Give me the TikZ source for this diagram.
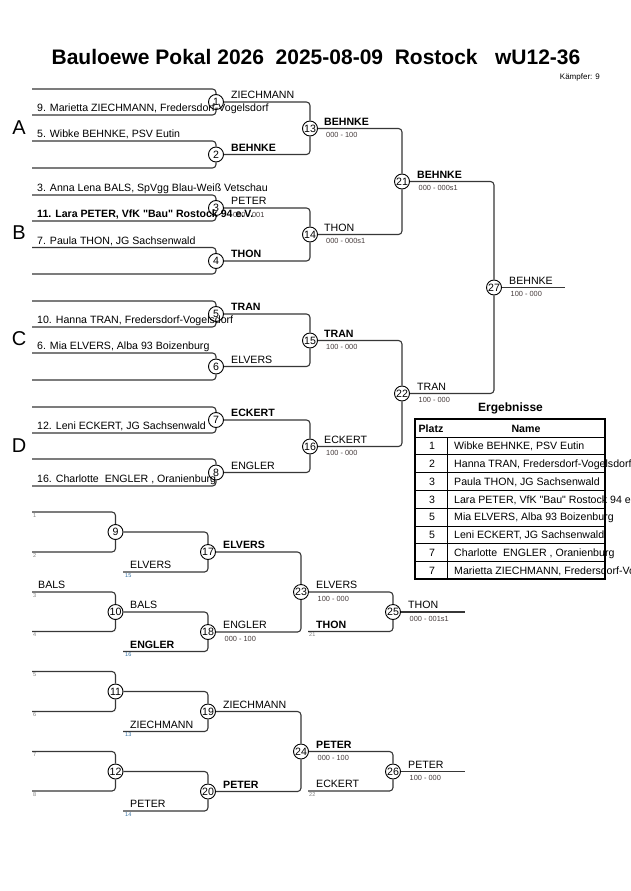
\documentclass[tikz,border=0pt]{standalone}
\usepackage{fontspec}
\newfontfamily\af{Liberation Sans}
\definecolor{lc}{RGB}{55,55,55}
\definecolor{scc}{RGB}{70,60,60}
\definecolor{tb}{RGB}{50,110,160}
\begin{document}
\begin{tikzpicture}[x=1pt,y=-1pt,
  br/.style={draw=lc, line width=1.1pt, rounded corners=3.5pt},
  mc/.style={circle, draw=black, line width=0.9pt, fill=white, minimum size=15pt, inner sep=0pt, font=\af\fontsize{10.6}{12}\selectfont},
  nm/.style={anchor=base west, inner sep=0pt, font=\af\fontsize{10.6}{12}\selectfont},
  nmb/.style={anchor=base west, inner sep=0pt, font=\af\bfseries\fontsize{10.6}{12}\selectfont},
  scoretxt/.style={anchor=base west, inner sep=0pt, text=scc, font=\af\fontsize{7.4}{8}\selectfont},
  tnum/.style={anchor=base west, inner sep=0pt, text=gray, font=\af\fontsize{5.5}{6}\selectfont},
  tnumb/.style={tnum, text=tb},
  pool/.style={anchor=base, inner sep=0pt, font=\af\fontsize{20}{22}\selectfont},
  tabline/.style={draw=black, line width=0.9pt},
  tabtxt/.style={anchor=base west, inner sep=0pt, font=\af\fontsize{10.6}{12}\selectfont},
  tabnum/.style={anchor=base, inner sep=0pt, font=\af\fontsize{10.6}{12}\selectfont},
  tabhead/.style={anchor=base, inner sep=0pt, font=\af\bfseries\fontsize{10.6}{12}\selectfont}
]
\useasboundingbox[fill=white] (0,0) rectangle (630,891);

% ---------- header ----------
\node[anchor=base, inner sep=0pt, font=\af\bfseries\fontsize{21}{24}\selectfont] (title) at (316,65)
  {Bauloewe Pokal 2026\ \ 2025-08-09\ \ Rostock\ \ \ wU12-36};
\node[anchor=base east, inner sep=0pt, font=\af\fontsize{8}{9}\selectfont] (kaempfer) at (600,79) {Kämpfer: 9};

% ---------- coordinates of entry lines ----------
\coordinate (a1) at (32,89);   \coordinate (a2) at (32,115);
\coordinate (a3) at (32,141);  \coordinate (a4) at (32,168);
\coordinate (b1) at (32,195);  \coordinate (b2) at (32,221);
\coordinate (b3) at (32,247.5);\coordinate (b4) at (32,274);
\coordinate (c1) at (32,301);  \coordinate (c2) at (32,327);
\coordinate (c3) at (32,353);  \coordinate (c4) at (32,380);
\coordinate (d1) at (32,407);  \coordinate (d2) at (32,433);
\coordinate (d3) at (32,459);  \coordinate (d4) at (32,486);
\coordinate (f27) at (565,287.5);

% ---------- main bracket circles ----------
\node[mc] (m1) at (216,102) {1};
\node[mc] (m2) at (216,154.5) {2};
\node[mc] (m3) at (216,208) {3};
\node[mc] (m4) at (216,261) {4};
\node[mc] (m5) at (216,314) {5};
\node[mc] (m6) at (216,366.5) {6};
\node[mc] (m7) at (216,420) {7};
\node[mc] (m8) at (216,472.5) {8};
\node[mc] (m13) at (310,128.5) {13};
\node[mc] (m14) at (310,234.5) {14};
\node[mc] (m15) at (310,340.5) {15};
\node[mc] (m16) at (310,446.5) {16};
\node[mc] (m21) at (402,181.5) {21};
\node[mc] (m22) at (402,393.5) {22};
\node[mc] (m27) at (494,287.5) {27};

% ---------- connectors main bracket ----------
\draw[br] (a1) -| (m1); \draw[br] (a2) -| (m1);
\draw[br] (a3) -| (m2); \draw[br] (a4) -| (m2);
\draw[br] (b1) -| (m3); \draw[br] (b2) -| (m3);
\draw[br] (b3) -| (m4); \draw[br] (b4) -| (m4);
\draw[br] (c1) -| (m5); \draw[br] (c2) -| (m5);
\draw[br] (c3) -| (m6); \draw[br] (c4) -| (m6);
\draw[br] (d1) -| (m7); \draw[br] (d2) -| (m7);
\draw[br] (d3) -| (m8); \draw[br] (d4) -| (m8);
\draw[br] (m1) -| (m13); \draw[br] (m2) -| (m13);
\draw[br] (m3) -| (m14); \draw[br] (m4) -| (m14);
\draw[br] (m5) -| (m15); \draw[br] (m6) -| (m15);
\draw[br] (m7) -| (m16); \draw[br] (m8) -| (m16);
\draw[br] (m13) -| (m21); \draw[br] (m14) -| (m21);
\draw[br] (m15) -| (m22); \draw[br] (m16) -| (m22);
\draw[br] (m21) -| (m27); \draw[br] (m22) -| (m27);
\draw[br] (m27) -- (f27);

% ---------- pool letters ----------
\node[pool] (pA) at (19,134) {A};
\node[pool] (pB) at (19,239.5) {B};
\node[pool] (pC) at (19,345.5) {C};
\node[pool] (pD) at (19,452) {D};

% ---------- competitor names ----------
\node[nm] (n9) at (37,111.5) {9. Marietta ZIECHMANN, Fredersdorf-Vogelsdorf};
\node[nm] (n5) at (37,137.5) {5. Wibke BEHNKE, PSV Eutin};
\node[nm] (n3) at (37,191.5) {3. Anna Lena BALS, SpVgg Blau-Weiß Vetschau};
\node[scoretxt] (s3) at (233,217) {000 - 001};
\node[nmb] (n11) at (37,217.5) {11. Lara PETER, VfK "Bau" Rostock 94 e.V.};
\node[nm] (n7) at (37,244) {7. Paula THON, JG Sachsenwald};
\node[nm] (n10) at (37,323.5) {10. Hanna TRAN, Fredersdorf-Vogelsdorf};
\node[nm] (n6) at (37,349.5) {6. Mia ELVERS, Alba 93 Boizenburg};
\node[nm] (n12) at (37,429.5) {12. Leni ECKERT, JG Sachsenwald};
\node[nm] (n16) at (37,482.5) {16. Charlotte\ \ ENGLER , Oranienburg};

% ---------- round 1 winners ----------
\node[nm]  (w1) at (231,98.5) {ZIECHMANN};
\node[nmb] (w2) at (231,151) {BEHNKE};
\node[nm]  (w3) at (231,204.5) {PETER};
\node[nmb] (w4) at (231,257.5) {THON};
\node[nmb] (w5) at (231,310.5) {TRAN};
\node[nm]  (w6) at (231,363) {ELVERS};
\node[nmb] (w7) at (231,416.5) {ECKERT};
\node[nm]  (w8) at (231,469) {ENGLER};

% ---------- round 2 ----------
\node[nmb] (w13) at (324,125) {BEHNKE};
\node[scoretxt] (s13) at (326,137.5) {000 - 100};
\node[nm] (w14) at (324,231) {THON};
\node[scoretxt] (s14) at (326,243.5) {000 - 000s1};
\node[nmb] (w15) at (324,337) {TRAN};
\node[scoretxt] (s15) at (326,349.5) {100 - 000};
\node[nm] (w16) at (324,443) {ECKERT};
\node[scoretxt] (s16) at (326,455.5) {100 - 000};
\node[nmb] (w21) at (417,178) {BEHNKE};
\node[scoretxt] (s21) at (418.5,190.5) {000 - 000s1};
\node[nm] (w22) at (417,390) {TRAN};
\node[scoretxt] (s22) at (418.5,402.5) {100 - 000};
\node[nm] (w27) at (509,284) {BEHNKE};
\node[scoretxt] (s27) at (510.5,296.5) {100 - 000};

% ---------- results table ----------
\node[anchor=base, inner sep=0pt, font=\af\bfseries\fontsize{12}{14}\selectfont] (erg) at (510.5,411) {Ergebnisse};
\foreach \k in {1,...,7} {\draw[tabline] (415,437+17.8*\k) -- (605,437+17.8*\k);}
\draw[tabline] (415,437) -- (605,437);
\draw[tabline] (447,437) -- (447,579.4);
\node[tabhead] (hp) at (431,432) {Platz};
\node[tabhead] (hn) at (526,432) {Name};
\foreach \p/\t [count=\i] in {1/{Wibke BEHNKE, PSV Eutin},2/{Hanna TRAN, Fredersdorf-Vogelsdorf},3/{Paula THON, JG Sachsenwald},3/{Lara PETER, VfK "Bau" Rostock 94 e.V.},5/{Mia ELVERS, Alba 93 Boizenburg},5/{Leni ECKERT, JG Sachsenwald},7/{Charlotte\ \ ENGLER , Oranienburg},7/{Marietta ZIECHMANN, Fredersdorf-Vogelsdorf}} {
  \node[tabnum] (tp\i) at (432,437+17.8*\i-5.1) {\p};
  \node[tabtxt] (tn\i) at (454,437+17.8*\i-5.1) {\t};
}
\draw[draw=black, line width=1.9pt] (415,419) rectangle (605,579.4);

% ---------- repechage block 1 ----------
\coordinate (e1) at (32,512);  \coordinate (e2) at (32,552);
\coordinate (e3) at (32,592);  \coordinate (e4) at (32,631.5);
\coordinate (r15) at (123,572); \coordinate (r16) at (123,651.5);
\coordinate (r21) at (308,631.5); \coordinate (f25) at (465,612);
\node[mc] (m9) at (115.5,532) {9};
\node[mc] (m10) at (115.5,612) {10};
\node[mc] (m17) at (208,552) {17};
\node[mc] (m18) at (208,632) {18};
\node[mc] (m23) at (301,592) {23};
\node[mc] (m25) at (393,612) {25};
\draw[br] (e1) -| (m9); \draw[br] (e2) -| (m9);
\draw[br] (e3) -| (m10); \draw[br] (e4) -| (m10);
\draw[br] (m9) -| (m17); \draw[br] (r15) -| (m17);
\draw[br] (m10) -| (m18); \draw[br] (r16) -| (m18);
\draw[br] (m17) -| (m23); \draw[br] (m18) -| (m23);
\draw[br] (m23) -| (m25); \draw[br] (r21) -| (m25);
\draw[br] (m25) -- (f25);
\node[tnum] (t1) at (33,517) {1};
\node[tnum] (t2) at (33,557) {2};
\node[tnum] (t3) at (33,597) {3};
\node[tnum] (t4) at (33,636.5) {4};
\node[nm] (x3) at (38,588.5) {BALS};
\node[nm] (x15) at (130,568.5) {ELVERS};
\node[tnumb] (t15) at (125,577) {15};
\node[nm] (w10) at (130,608.5) {BALS};
\node[nmb] (x16) at (130,648) {ENGLER};
\node[tnumb] (t16) at (125,656.5) {16};
\node[nmb] (w17) at (223,548.5) {ELVERS};
\node[nm] (w18) at (223,628.5) {ENGLER};
\node[scoretxt] (s18) at (224.5,641) {000 - 100};
\node[nm] (w23) at (316,588.5) {ELVERS};
\node[scoretxt] (s23) at (317.5,601) {100 - 000};
\node[nmb] (x21) at (316,628) {THON};
\node[tnum] (t21) at (309,636.5) {21};
\node[nm] (w25) at (408,608.5) {THON};
\node[scoretxt] (s25) at (409.5,621) {000 - 001s1};

% ---------- repechage block 2 ----------
\coordinate (e5) at (32,671.5);  \coordinate (e6) at (32,711.5);
\coordinate (e7) at (32,751.5);  \coordinate (e8) at (32,791);
\coordinate (r13) at (123,731.5); \coordinate (r14) at (123,811);
\coordinate (r22) at (308,791); \coordinate (f26) at (465,771.5);
\node[mc] (m11) at (115.5,691.5) {11};
\node[mc] (m12) at (115.5,771.5) {12};
\node[mc] (m19) at (208,711.5) {19};
\node[mc] (m20) at (208,791.5) {20};
\node[mc] (m24) at (301,751.5) {24};
\node[mc] (m26) at (393,771.5) {26};
\draw[br] (e5) -| (m11); \draw[br] (e6) -| (m11);
\draw[br] (e7) -| (m12); \draw[br] (e8) -| (m12);
\draw[br] (m11) -| (m19); \draw[br] (r13) -| (m19);
\draw[br] (m12) -| (m20); \draw[br] (r14) -| (m20);
\draw[br] (m19) -| (m24); \draw[br] (m20) -| (m24);
\draw[br] (m24) -| (m26); \draw[br] (r22) -| (m26);
\draw[br] (m26) -- (f26);
\node[tnum] (t5) at (33,676.5) {5};
\node[tnum] (t6) at (33,716.5) {6};
\node[tnum] (t7) at (33,756.5) {7};
\node[tnum] (t8) at (33,796) {8};
\node[nm] (x13) at (130,728) {ZIECHMANN};
\node[tnumb] (t13) at (125,736.5) {13};
\node[nm] (x14) at (130,807.5) {PETER};
\node[tnumb] (t14) at (125,816) {14};
\node[nm] (w19) at (223,708) {ZIECHMANN};
\node[nmb] (w20) at (223,788) {PETER};
\node[nmb] (w24) at (316,748) {PETER};
\node[scoretxt] (s24) at (317.5,760.5) {000 - 100};
\node[nm] (x22) at (316,787.5) {ECKERT};
\node[tnum] (t22) at (309,796) {22};
\node[nm] (w26) at (408,768) {PETER};
\node[scoretxt] (s26) at (409.5,780.5) {100 - 000};
\end{tikzpicture}
\end{document}
